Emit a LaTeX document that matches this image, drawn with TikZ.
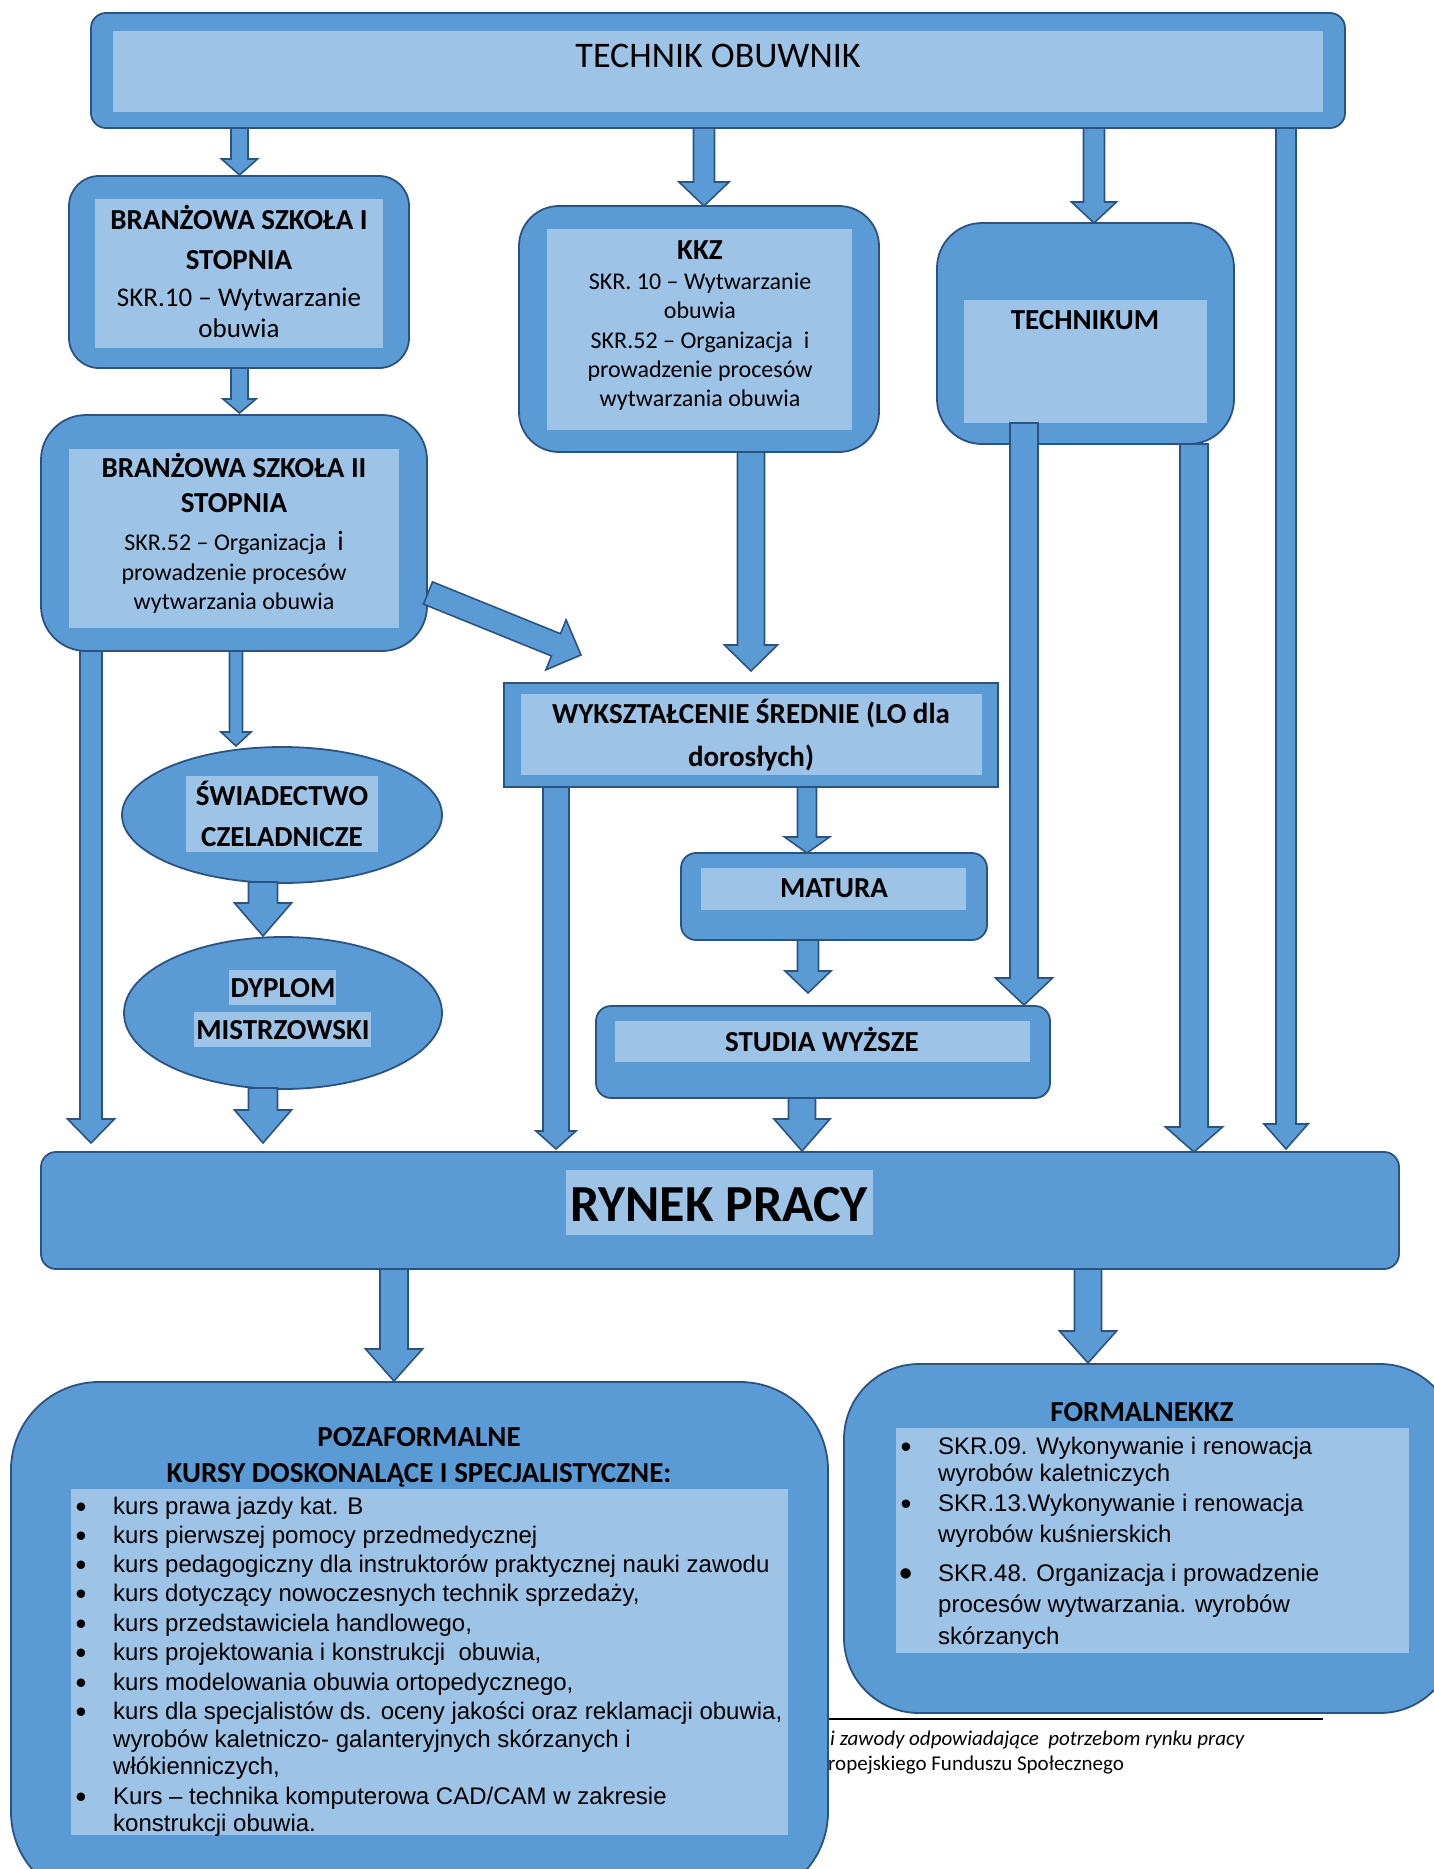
\documentclass[tikz,border=0pt]{standalone}
\usepackage{fontspec}
\setmainfont{Carlito}
\newfontfamily\arialf{Liberation Sans}
\usetikzlibrary{shapes.geometric}
\definecolor{mid}{RGB}{91,155,213}
\definecolor{light}{RGB}{157,195,230}
\definecolor{bord}{RGB}{44,83,128}
\newcommand\barrow[7]{%
  \pgfmathsetmacro\bdx{#3-(#1)}%
  \pgfmathsetmacro\bdy{#4-(#2)}%
  \pgfmathsetmacro\blen{veclen(\bdx,\bdy)}%
  \pgfmathsetmacro\bang{-atan2(\bdy,\bdx)}%
  \pgfmathsetmacro\bneck{\blen-#7}%
  \begin{scope}[shift={(#1,#2)},rotate=\bang]
    \draw[barr] (0,-#5/2) -- (\bneck,-#5/2) -- (\bneck,-#6/2) -- (\blen,0) -- (\bneck,#6/2) -- (\bneck,#5/2) -- (0,#5/2) -- cycle;
  \end{scope}}
\tikzset{
  outer/.style={draw=bord, fill=mid, line width=1.8pt, inner sep=0pt, outer sep=0pt},
  inner/.style={fill=light, draw=none, inner sep=0pt, outer sep=0pt},
  barr/.style={draw=bord, fill=mid, line width=1.6pt, line join=miter},
  hd/.style={font=\fontsize{29}{34}\selectfont\bfseries, anchor=base, inner sep=0pt},
  tx/.style={font=\fontsize{24}{29}\selectfont, anchor=base, inner sep=0pt},
  txb/.style={font=\fontsize{27}{31}\selectfont, anchor=base, inner sep=0pt},
  li/.style={font=\arialf\fontsize{24}{28}\selectfont, anchor=base west, inner sep=0pt},
  bul/.style={font=\arialf\fontsize{31}{31}\selectfont, anchor=base, inner sep=0pt},
}
\begin{document}
\begin{tikzpicture}[x=1pt,y=-1pt]
\useasboundingbox (0,0) rectangle (1434,1869);
\clip (0,0) rectangle (1434,1869);
\fill[white] (0,0) rectangle (1434,1869);

% footnote (partly hidden behind the left bottom box)
\draw[black, line width=1.6pt] (828,1719) -- (1323,1719);
\node[anchor=base west, inner sep=0pt, font=\fontsize{21}{25}\selectfont\itshape] (fn1) at (830,1745) {i zawody odpowiadające\ \ potrzebom rynku pracy};
\node[anchor=base west, inner sep=0pt, font=\fontsize{21}{25}\selectfont] (fn2) at (828,1770) {ropejskiego Funduszu Społecznego};

% ---------- boxes ----------
\node[outer, rounded corners=15, minimum width=1254, minimum height=115] (top) at (718,70.5) {};
\node[inner, minimum width=1210, minimum height=81] (topi) at (718,71.5) {};

\node[outer, rounded corners=30, minimum width=340, minimum height=192] (bs1) at (239,272) {};
\node[inner, minimum width=288, minimum height=149] (bs1i) at (239,273.5) {};

\node[outer, rounded corners=40, minimum width=360, minimum height=246] (kkz) at (699,329) {};
\node[inner, minimum width=305, minimum height=201] (kkzi) at (699.5,329.5) {};

\node[outer, rounded corners=45, minimum width=297, minimum height=221] (tech) at (1085.5,333.5) {};
\node[inner, minimum width=243, minimum height=123] (techi) at (1085.5,361.5) {};

\node[outer, rounded corners=45, minimum width=386, minimum height=236] (bs2) at (234,533) {};
\node[inner, minimum width=330, minimum height=179] (bs2i) at (234,538.5) {};

\node[outer, minimum width=494, minimum height=104] (wyk) at (751,735) {};
\node[inner, minimum width=461, minimum height=81] (wyki) at (751.5,734.5) {};

\node[outer, ellipse, minimum width=320, minimum height=136] (sw) at (282,815) {};
\node[inner, minimum width=192, minimum height=76] (swi) at (282,814) {};

\node[outer, ellipse, minimum width=318, minimum height=152] (dyp) at (283,1013) {};
\node[inner, minimum width=107, minimum height=35] (dypi1) at (282.5,987.5) {};
\node[inner, minimum width=177, minimum height=35] (dypi2) at (282.5,1029.5) {};

\node[outer, rounded corners=15, minimum width=306, minimum height=87] (mat) at (834,896.5) {};
\node[inner, minimum width=265, minimum height=42] (mati) at (833.5,889) {};

\node[outer, rounded corners=15, minimum width=454, minimum height=92] (stu) at (823,1052) {};
\node[inner, minimum width=415, minimum height=41] (stui) at (822.5,1041.5) {};

\node[outer, rounded corners=15, minimum width=1358, minimum height=117] (ryn) at (720,1210.5) {};
\node[inner, minimum width=307, minimum height=65] (ryni) at (719.5,1202.5) {};

\node[outer, rounded corners=88, minimum width=817, minimum height=518] (poza) at (419.5,1641) {};
\node[inner, minimum width=717, minimum height=346] (pozai) at (429.5,1662) {};

\node[outer, rounded corners=75, minimum width=611, minimum height=349] (form) at (1149.5,1538.5) {};
\node[inner, minimum width=513, minimum height=225] (formi) at (1152.5,1540.5) {};

% ---------- texts ----------
\node[anchor=base, inner sep=0pt, font=\fontsize{36}{40}\selectfont] (ttop) at (718,67) {TECHNIK OBUWNIK};

\node[hd] (b1a) at (239,229) {BRANŻOWA SZKOŁA I};
\node[hd] (b1b) at (239,269) {STOPNIA};
\node[txb] (b1c) at (239,306) {SKR.10 – Wytwarzanie};
\node[txb] (b1d) at (239,337) {obuwia};

\node[hd] (k1) at (700,259) {KKZ};
\node[tx] (k2) at (700,289) {SKR. 10 – Wytwarzanie};
\node[tx] (k3) at (700,318) {obuwia};
\node[tx] (k4) at (700,348) {SKR.52 – Organizacja\ \ i};
\node[tx] (k5) at (700,377) {prowadzenie procesów};
\node[tx] (k6) at (700,406) {wytwarzania obuwia};

\node[hd] (te1) at (1085,329) {TECHNIKUM};

\node[hd] (b2a) at (234,477) {BRANŻOWA SZKOŁA II};
\node[hd] (b2b) at (234,512) {STOPNIA};
\node[tx] (b2c) at (234,550) {SKR.52 – Organizacja\ \ {\fontsize{28}{29}\selectfont i}};
\node[tx] (b2d) at (234,580) {prowadzenie procesów};
\node[tx] (b2e) at (234,609) {wytwarzania obuwia};

\node[hd] (sw1) at (282,805) {ŚWIADECTWO};
\node[hd] (sw2) at (282,846) {CZELADNICZE};

\node[hd] (dy1) at (283,997) {DYPLOM};
\node[hd] (dy2) at (283,1039) {MISTRZOWSKI};

\node[hd] (wy1) at (751,723) {WYKSZTAŁCENIE ŚREDNIE (LO dla};
\node[hd] (wy2) at (751,766) {dorosłych)};

\node[hd] (ma1) at (834,897) {MATURA};
\node[hd] (st1) at (822,1051) {STUDIA WYŻSZE};

\node[anchor=base, inner sep=0pt, font=\fontsize{52}{56}\selectfont\bfseries] (ry1) at (719,1221) {RYNEK PRACY};

\node[hd] (pz1) at (419,1446) {POZAFORMALNE};
\node[hd] (pz2) at (419,1482) {KURSY DOSKONALĄCE I SPECJALISTYCZNE:};

\node[bul] (pb1) at (81,1517) {•};
\node[li] (pl1) at (113,1514) {kurs prawa jazdy kat. B};
\node[bul] (pb2) at (81,1546) {•};
\node[li] (pl2) at (113,1543) {kurs pierwszej pomocy przedmedycznej};
\node[bul] (pb3) at (81,1575) {•};
\node[li] (pl3) at (113,1572) {kurs pedagogiczny dla instruktorów praktycznej nauki zawodu};
\node[bul] (pb4) at (81,1604) {•};
\node[li] (pl4) at (113,1601) {kurs dotyczący nowoczesnych technik sprzedaży,};
\node[bul] (pb5) at (81,1634) {•};
\node[li] (pl5) at (113,1631) {kurs przedstawiciela handlowego,};
\node[bul] (pb6) at (81,1663) {•};
\node[li] (pl6) at (113,1660) {kurs projektowania i konstrukcji\ \ obuwia,};
\node[bul] (pb7) at (81,1693) {•};
\node[li] (pl7) at (113,1690) {kurs modelowania obuwia ortopedycznego,};
\node[bul] (pb8) at (81,1722) {•};
\node[li] (pl8) at (113,1719) {kurs dla specjalistów ds. oceny jakości oraz reklamacji obuwia,};
\node[li] (pl8b) at (113,1747) {wyrobów kaletniczo- galanteryjnych skórzanych i};
\node[li] (pl8c) at (113,1774) {włókienniczych,};
\node[bul] (pb9) at (81,1807) {•};
\node[li] (pl9) at (113,1804) {Kurs – technika komputerowa CAD/CAM w zakresie};
\node[li] (pl9b) at (113,1831) {konstrukcji obuwia.};

\node[hd] (fm1) at (1142,1421) {FORMALNEKKZ};
\node[bul] (fb1) at (906,1457) {•};
\node[li] (fl1) at (938,1454) {SKR.09. Wykonywanie i renowacja};
\node[li] (fl1b) at (938,1481) {wyrobów kaletniczych};
\node[bul] (fb2) at (906,1514) {•};
\node[li] (fl2) at (938,1511) {SKR.13.Wykonywanie i renowacja};
\node[li] (fl2b) at (938,1542) {wyrobów kuśnierskich};
\node[bul, font=\arialf\fontsize{38}{38}\selectfont] (fb3) at (906,1586) {•};
\node[li] (fl3) at (938,1581) {SKR.48. Organizacja i prowadzenie};
\node[li] (fl3b) at (938,1612) {procesów wytwarzania. wyrobów};
\node[li] (fl3c) at (938,1644) {skórzanych};

% ---------- block arrows ----------
\barrow{239.5}{128}{239.5}{175}{17}{36}{16}
\barrow{704}{128}{704}{206}{21}{50}{24}
\barrow{1094}{128}{1094}{223}{21}{45}{21}
\barrow{1286}{128}{1286}{1149}{20}{44}{25}
\barrow{239.5}{368}{239.5}{413}{17}{33}{14}
\barrow{91}{651}{91}{1143}{22}{47}{24}
\barrow{236}{651}{236}{746}{13}{30}{14}
\barrow{263}{882}{263}{936}{29}{57}{33}
\barrow{263}{1088}{263}{1143}{29}{57}{33}
\barrow{428}{593}{581}{655}{24}{54}{27}
\barrow{751}{452}{751}{671}{27}{53}{26}
\barrow{1024}{423}{1024}{1005}{28}{57}{27}
\barrow{1194}{444}{1194}{1152}{28}{57}{25}
\barrow{556}{787}{556}{1149}{26}{40}{18}
\barrow{807}{787}{807}{853}{19}{45}{16}
\barrow{808}{940}{808}{993}{21}{46}{22}
\barrow{802}{1098}{802}{1151}{27}{56}{32}
\barrow{394}{1269}{394}{1381}{28}{57}{32}
\barrow{1088}{1269}{1088}{1363}{27}{57}{32}
\end{tikzpicture}
\end{document}
